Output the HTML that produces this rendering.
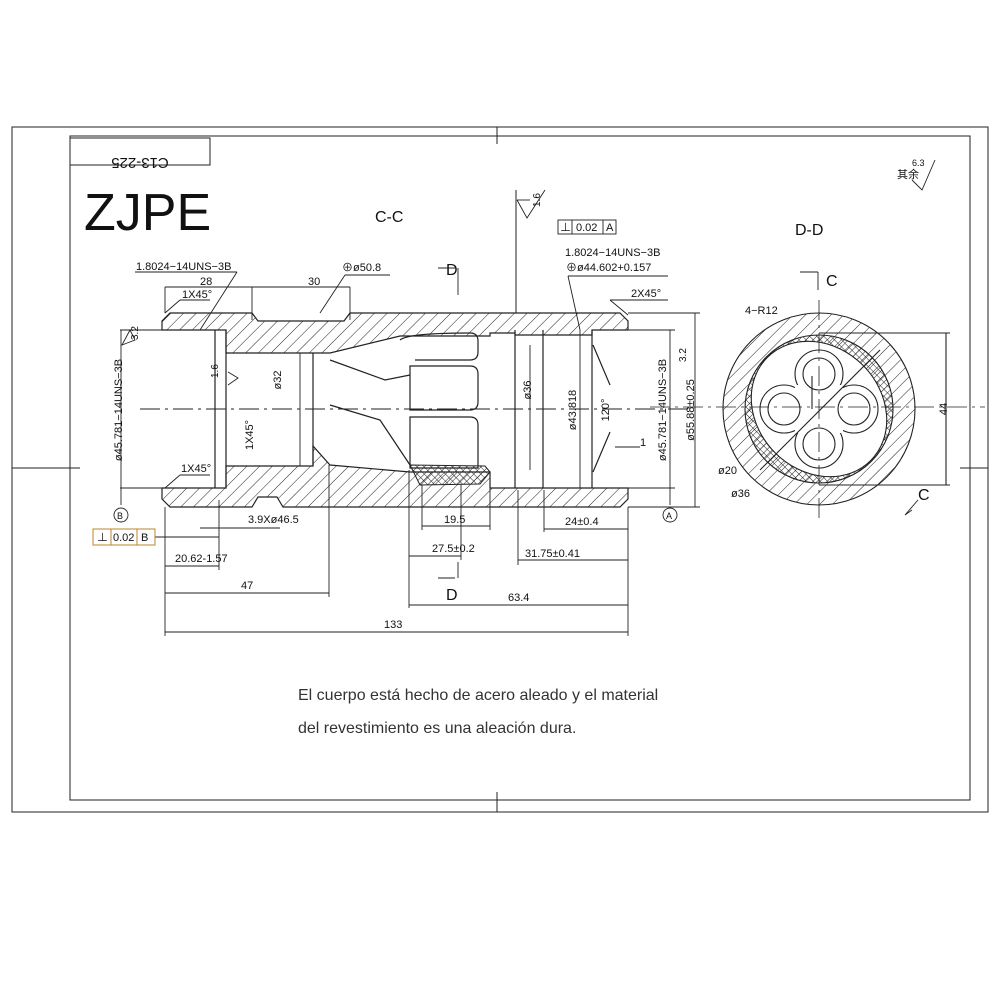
<!DOCTYPE html>
<html><head><meta charset="utf-8"><style>
html,body{margin:0;padding:0;background:#fff;width:1000px;height:1000px;overflow:hidden}
svg{display:block}
text{font-family:"Liberation Sans","Noto Sans CJK SC",sans-serif;fill:#111}
</style></head><body>
<svg width="1000" height="1000" viewBox="0 0 1000 1000" xmlns="http://www.w3.org/2000/svg">
<defs>
<pattern id="h" width="9" height="9" patternUnits="userSpaceOnUse" patternTransform="rotate(45)">
<line x1="0" y1="0" x2="0" y2="9" stroke="#222" stroke-width="1"/></pattern>
<pattern id="x" width="5" height="5" patternUnits="userSpaceOnUse" patternTransform="rotate(45)">
<path d="M0 0V5M0 0H5" stroke="#222" stroke-width="1"/></pattern>
</defs>
<g fill="none" stroke="#222" stroke-width="1">
<rect x="12" y="127" width="976" height="685"/>
<rect x="70" y="136" width="900" height="664"/>
<line x1="497" y1="127" x2="497" y2="144"/><line x1="497" y1="792" x2="497" y2="812"/>
<line x1="12" y1="468" x2="80" y2="468"/><line x1="960" y1="468" x2="988" y2="468"/>
<rect x="70" y="138" width="140" height="27"/>
</g>
<text x="140" y="146" font-size="15" text-anchor="middle" transform="rotate(180 140 152)">C13-225</text>
<text x="84" y="230" font-size="52">ZJPE</text>

<g stroke="#222" stroke-width="1.2" fill="url(#h)">
<path d="M170 313 H252 L258 321 H344 L350 313 H620 L628 321 V330 H592 V335 H515 V333 H490 V336 H400 L330 353 H313 H226 V330 H162 V321Z"/>
<path d="M162 488 H226 V466 H313 V446 L330 465 L410 472 H490 V488 H628 V499 L620 507 H283 L277 497 H258 L252 507 H170 L162 499Z"/>
</g>
<g stroke="#222" stroke-width="1.2" fill="none">
<line x1="215" y1="330" x2="215" y2="488"/><line x1="226" y1="330" x2="226" y2="488"/>
<line x1="313" y1="353" x2="313" y2="466"/>
<line x1="515" y1="330" x2="515" y2="488"/><line x1="592" y1="330" x2="592" y2="488"/>
<line x1="543" y1="330" x2="543" y2="488"/>
<path d="M400 340 Q408 333 470 333 Q478 333 478 341 V352 Q478 360 470 360 H415"/>
<path d="M410 366 H470 Q478 366 478 374 V402 Q478 410 470 410 H410Z"/>
<path d="M410 417 H470 Q478 417 478 425 V468 H410Z"/>
<path d="M330 360 L385 380 L410 375 M330 405 L380 420 L410 465"/>
<path d="M593 345 L610 385 M593 472 L610 432"/>
</g>
<path d="M410 465 L485 466 L490 472 L480 484 L420 485Z" fill="url(#x)" stroke="#222"/>
<line x1="140" y1="409" x2="690" y2="409" stroke="#222" stroke-dasharray="20 5 3 5"/>
<line x1="516" y1="190" x2="516" y2="313" stroke="#222"/>

<g stroke="#222" stroke-width="0.9" fill="none">
<line x1="165" y1="507" x2="165" y2="636"/><line x1="628" y1="507" x2="628" y2="636"/>
<line x1="329" y1="465" x2="329" y2="597"/><line x1="409" y1="470" x2="409" y2="608"/>
<line x1="219" y1="500" x2="219" y2="570"/><line x1="461" y1="485" x2="461" y2="560"/>
<line x1="518" y1="490" x2="518" y2="565"/><line x1="544" y1="490" x2="544" y2="532"/>
<line x1="422" y1="485" x2="422" y2="530"/><line x1="490" y1="485" x2="490" y2="530"/>
<line x1="165" y1="632" x2="628" y2="632"/><line x1="409" y1="605" x2="628" y2="605"/>
<line x1="165" y1="593" x2="329" y2="593"/><line x1="165" y1="566" x2="219" y2="566"/>
<line x1="409" y1="556" x2="461" y2="556"/><line x1="518" y1="560" x2="628" y2="560"/>
<line x1="544" y1="529" x2="628" y2="529"/><line x1="422" y1="526" x2="490" y2="526"/>
<line x1="200" y1="528" x2="280" y2="528"/><line x1="155" y1="537" x2="219" y2="537"/>
<line x1="165" y1="287" x2="252" y2="287"/><line x1="165" y1="287" x2="165" y2="313"/>
<line x1="252" y1="287" x2="350" y2="287"/><line x1="252" y1="287" x2="252" y2="320"/><line x1="350" y1="287" x2="350" y2="320"/>
<line x1="120" y1="330" x2="162" y2="330"/><line x1="120" y1="488" x2="162" y2="488"/><line x1="121" y1="330" x2="121" y2="505"/>
<line x1="628" y1="313" x2="700" y2="313"/><line x1="628" y1="507" x2="700" y2="507"/><line x1="695" y1="313" x2="695" y2="507"/>
<line x1="592" y1="330" x2="675" y2="330"/><line x1="592" y1="488" x2="675" y2="488"/><line x1="670" y1="330" x2="670" y2="505"/>
<line x1="580" y1="330" x2="580" y2="488"/><line x1="530" y1="345" x2="530" y2="470"/>
<line x1="300" y1="353" x2="300" y2="466"/>
<line x1="135" y1="272" x2="237" y2="272"/><line x1="237" y1="272" x2="200" y2="330"/>
<line x1="345" y1="275" x2="390" y2="275"/><line x1="345" y1="275" x2="320" y2="313"/>
<line x1="568" y1="276" x2="668" y2="276"/><line x1="568" y1="276" x2="580" y2="330"/>
<line x1="610" y1="300" x2="668" y2="300"/><line x1="610" y1="300" x2="628" y2="315"/>
<line x1="180" y1="300" x2="210" y2="300"/><line x1="165" y1="313" x2="180" y2="300"/>
<line x1="180" y1="475" x2="210" y2="475"/><line x1="165" y1="488" x2="180" y2="475"/>
<line x1="438" y1="268" x2="455" y2="268"/><line x1="458" y1="268" x2="458" y2="295"/>
<line x1="438" y1="578" x2="455" y2="578"/><line x1="458" y1="562" x2="458" y2="578"/>
<line x1="800" y1="272" x2="818" y2="272"/><line x1="818" y1="272" x2="818" y2="290"/>
<path d="M905 515 L918 500 M905 515 L912 510"/>
<rect x="558" y="220" width="58" height="14"/><line x1="572" y1="220" x2="572" y2="234"/><line x1="603" y1="220" x2="603" y2="234"/>
<line x1="640" y1="447" x2="615" y2="447"/>
<line x1="517" y1="200" x2="530" y2="200"/><path d="M517 200 L527 218 L545 190"/>
<path d="M912 180 L922 190 L935 160"/>
<path d="M122 345 L135 340 L130 330 Z M228 385 L238 378 L228 372"/>
<circle cx="121" cy="515" r="7"/><circle cx="670" cy="515" r="7"/>
</g>
<g stroke="#b8862b" fill="none"><rect x="93" y="529" width="62" height="16"/><line x1="111" y1="529" x2="111" y2="545"/><line x1="137" y1="529" x2="137" y2="545"/></g>

<g font-size="11">
<text x="136" y="270">1.8024−14UNS−3B</text>
<text x="200" y="285">28</text><text x="308" y="285">30</text>
<text x="342" y="271">⊕ø50.8</text>
<text x="182" y="298">1X45°</text><text x="181" y="472">1X45°</text>
<text x="248" y="523">3.9Xø46.5</text>
<text x="97" y="541">⊥</text><text x="113" y="541">0.02</text><text x="141" y="541">B</text>
<text x="175" y="562">20.62-1.57</text>
<text x="241" y="589">47</text><text x="384" y="628">133</text>
<text x="508" y="601">63.4</text><text x="432" y="552">27.5±0.2</text>
<text x="525" y="557">31.75±0.41</text><text x="565" y="525">24±0.4</text>
<text x="444" y="523">19.5</text>
<text x="565" y="256">1.8024−14UNS−3B</text><text x="566" y="271">⊕ø44.602+0.157</text>
<text x="631" y="297">2X45°</text>
<text x="560" y="231">⊥</text><text x="576" y="231">0.02</text><text x="606" y="231">A</text>
<text x="117" y="519" font-size="9">B</text><text x="666" y="519" font-size="9">A</text>
<text x="640" y="446">1</text>
<text x="745" y="314">4−R12</text><text x="718" y="474">ø20</text><text x="731" y="497">ø36</text>
<text x="375" y="222" font-size="16">C-C</text><text x="795" y="235" font-size="16">D-D</text>
<text x="446" y="275" font-size="16">D</text><text x="446" y="600" font-size="16">D</text>
<text x="826" y="286" font-size="16">C</text><text x="918" y="500" font-size="16">C</text>
<text x="897" y="178">其余</text><text x="912" y="166" font-size="9">6.3</text>
<text x="536" y="211" font-size="10" transform="rotate(-90 536 207)">1.6</text>
<text x="138" y="340" font-size="10" transform="rotate(-90 138 340)">3.2</text>
<text x="686" y="362" font-size="10" transform="rotate(-90 686 362)">3.2</text>
<text x="218" y="378" font-size="10" transform="rotate(-90 218 378)">1.6</text>
<g text-anchor="middle">
<text x="118" y="414" transform="rotate(-90 118 410)">ø45.781−14UNS−3B</text>
<text x="662" y="414" transform="rotate(-90 662 410)">ø45.781−14UNS−3B</text>
<text x="690" y="414" transform="rotate(-90 690 410)">ø55.88±0.25</text>
<text x="572" y="414" transform="rotate(-90 572 410)">ø43.818</text>
<text x="527" y="394" transform="rotate(-90 527 390)">ø36</text>
<text x="277" y="384" transform="rotate(-90 277 380)">ø32</text>
<text x="249" y="439" transform="rotate(-90 249 435)">1X45°</text>
<text x="605" y="414" transform="rotate(-90 605 410)">120°</text>
<text x="943" y="413" transform="rotate(-90 943 409)">44</text>
<text x="808" y="396" transform="rotate(-90 808 392)">10</text>
</g>
</g>
<g stroke="#222" fill="none" stroke-width="1.1">
<circle cx="819" cy="409" r="96" fill="url(#h)"/>
<circle cx="819" cy="409" r="74" fill="url(#x)"/>
<ellipse cx="819" cy="409" rx="73" ry="62" transform="rotate(45 819 409)" fill="#fff"/>
<circle cx="819" cy="374" r="24" fill="#fff"/><circle cx="819" cy="444" r="24" fill="#fff"/>
<circle cx="784" cy="409" r="24" fill="#fff"/><circle cx="854" cy="409" r="24" fill="#fff"/>
<rect x="795" y="385" width="48" height="48" fill="#fff" stroke="none"/>
<circle cx="819" cy="374" r="16"/><circle cx="819" cy="444" r="16"/>
<circle cx="784" cy="409" r="16"/><circle cx="854" cy="409" r="16"/>
<line x1="650" y1="407" x2="985" y2="407" stroke-dasharray="20 5 3 5" stroke-width="0.8"/>
<line x1="819" y1="300" x2="819" y2="520" stroke-dasharray="20 5 3 5" stroke-width="0.8"/>
<line x1="819" y1="333" x2="950" y2="333"/><line x1="819" y1="485" x2="950" y2="485"/><line x1="946" y1="333" x2="946" y2="485"/>
<line x1="760" y1="470" x2="880" y2="350"/>
<line x1="812" y1="376" x2="812" y2="409"/>
</g>
<text x="298" y="700" font-size="16" style="fill:#333">El cuerpo está hecho de acero aleado y el material</text>
<text x="298" y="733" font-size="16" style="fill:#333">del revestimiento es una aleación dura.</text>
</svg>
</body></html>
